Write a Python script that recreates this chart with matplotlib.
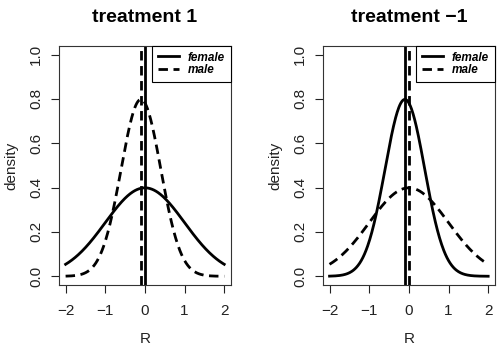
import numpy as np
import matplotlib
matplotlib.use('Agg')
import matplotlib.pyplot as plt

plt.rcParams['font.family'] = ['Liberation Sans', 'DejaVu Sans']
plt.rcParams['axes.unicode_minus'] = True

# panel titles and the normal densities drawn in each one (mean, sd)
titles = ['treatment 1', 'treatment \u22121']
female_mean = [0.0, -0.1]
female_sd = [1.0, 0.5]
male_mean = [-0.1, 0.0]
male_sd = [0.5, 1.0]
x_ticks = [-2, -1, 0, 1, 2]
y_ticks = [0.0, 0.2, 0.4, 0.6, 0.8, 1.0]


def dnorm(x, m, s):
    return np.exp(-0.5 * ((x - m) / s) ** 2) / (s * np.sqrt(2 * np.pi))


fig = plt.figure(figsize=(4.98, 3.49), dpi=100)
lefts = [0.119, 0.649]
x = np.linspace(-2, 2, 301)
dash = (0, (3.4, 2.0))

for i in range(2):
    ax = fig.add_axes([lefts[i], 0.183, 0.344, 0.686])
    ax.plot(x, dnorm(x, female_mean[i], female_sd[i]), color='black', lw=2, label='female')
    ax.plot(x, dnorm(x, male_mean[i], male_sd[i]), color='black', lw=2, ls=dash, label='male')
    ax.axvline(female_mean[i], color='black', lw=2)
    ax.axvline(male_mean[i], color='black', lw=2, ls=dash)

    ax.set_xlim(-2.16, 2.16)
    ax.set_ylim(-0.04, 1.04)
    ax.set_xticks(x_ticks)
    ax.set_xticklabels([str(t).replace('-', '\u2212') for t in x_ticks])
    ax.set_yticks(y_ticks)
    ax.set_yticklabels(['%.1f' % t for t in y_ticks], rotation=90, va='center')
    ax.tick_params(direction='out', length=5.5, width=0.8, labelsize=11, pad=5,
                   colors='#222222', labelcolor='#222222')
    ax.tick_params(axis='x', pad=8)
    ax.tick_params(axis='y', pad=6)
    for sp in ax.spines.values():
        sp.set_linewidth(0.8)
        sp.set_color('#333333')

    ax.set_title(titles[i], fontsize=14, fontweight='bold', pad=17)
    ax.set_xlabel('R', fontsize=11, labelpad=10, color='#222222')
    ax.set_ylabel('density', fontsize=11, labelpad=8, color='#222222')

    leg = ax.legend(loc='upper right', borderaxespad=0, fancybox=False,
                    edgecolor='black', framealpha=1, handlelength=1.8,
                    handletextpad=0.7, borderpad=0.5, labelspacing=0.05,
                    prop={'style': 'italic', 'weight': 'bold', 'size': 8.5})
    leg.get_frame().set_linewidth(0.8)

fig.savefig('out.png', dpi=100)
